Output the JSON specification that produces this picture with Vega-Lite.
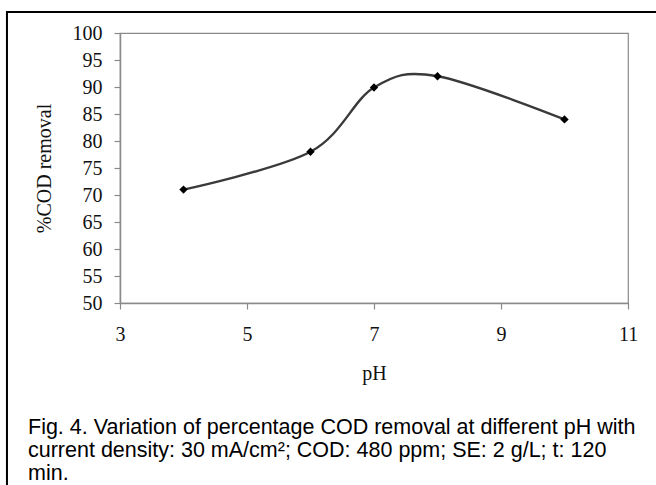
{
  "$schema": "https://vega.github.io/schema/vega-lite/v6.json",
  "autosize": {"type": "none"},
  "width": 508,
  "height": 270,
  "padding": {"left": 120, "top": 33, "right": 28, "bottom": 182},
  "background": "white",
  "title": {
    "text": [
      "Fig. 4. Variation of percentage COD removal at different pH with",
      "current density: 30 mA/cm²; COD: 480 ppm; SE: 2 g/L; t: 120",
      "min."
    ],
    "orient": "bottom",
    "anchor": "start",
    "frame": "group",
    "baseline": "top",
    "dx": -92,
    "dy": -71,
    "offset": 0,
    "font": "Liberation Sans",
    "fontSize": 21.5,
    "fontWeight": "normal",
    "lineHeight": 23,
    "color": "#000"
  },
  "config": {
    "view": {"stroke": "#8a8a8a", "strokeWidth": 1.2},
    "axis": {
      "grid": false,
      "domainColor": "#8a8a8a",
      "domainWidth": 1.5,
      "tickColor": "#8a8a8a",
      "tickWidth": 1.2,
      "tickSize": 6,
      "labelFont": "Liberation Serif",
      "labelFontSize": 20,
      "labelColor": "#111",
      "titleFont": "Liberation Serif",
      "titleFontSize": 20,
      "titleFontWeight": "normal",
      "titleColor": "#111"
    }
  },
  "layer": [
    {
      "data": {"values": [{}]},
      "mark": {"type": "rect", "fill": null, "fillOpacity": 0, "stroke": "#000", "strokeWidth": 2, "clip": false},
      "encoding": {
        "x": {"datum": 1.22, "type": "quantitative", "scale": {"domain": [3, 11], "nice": false, "zero": false}},
        "x2": {"datum": 11.7},
        "y": {"datum": 103.9, "type": "quantitative", "scale": {"domain": [50, 100], "nice": false, "zero": false}},
        "y2": {"datum": 16}
      }
    },
    {
      "data": {"values": [
        {"pH": 4, "removal": 71},
        {"pH": 6, "removal": 78},
        {"pH": 7, "removal": 89.9},
        {"pH": 8, "removal": 92},
        {"pH": 10, "removal": 84}
      ]},
      "layer": [
        {
          "mark": {"type": "line", "interpolate": "cardinal", "color": "#3a3a3a", "strokeWidth": 2.4},
          "encoding": {
            "x": {"field": "pH", "type": "quantitative"},
            "y": {"field": "removal", "type": "quantitative"}
          }
        },
        {
          "mark": {"type": "point", "shape": "diamond", "filled": true, "color": "#000", "size": 70, "opacity": 1},
          "encoding": {
            "x": {"field": "pH", "type": "quantitative"},
            "y": {"field": "removal", "type": "quantitative"}
          }
        }
      ],
      "encoding": {}
    }
  ],
  "resolve": {"scale": {"x": "shared", "y": "shared"}},
  "encoding": {
    "x": {
      "type": "quantitative",
      "axis": {"title": "pH", "values": [3, 5, 7, 9, 11], "labelPadding": 15, "titlePadding": 19, "labelFlush": false}
    },
    "y": {
      "type": "quantitative",
      "axis": {"title": "%COD removal", "values": [50, 55, 60, 65, 70, 75, 80, 85, 90, 95, 100], "labelPadding": 12, "titlePadding": 18}
    }
  }
}
